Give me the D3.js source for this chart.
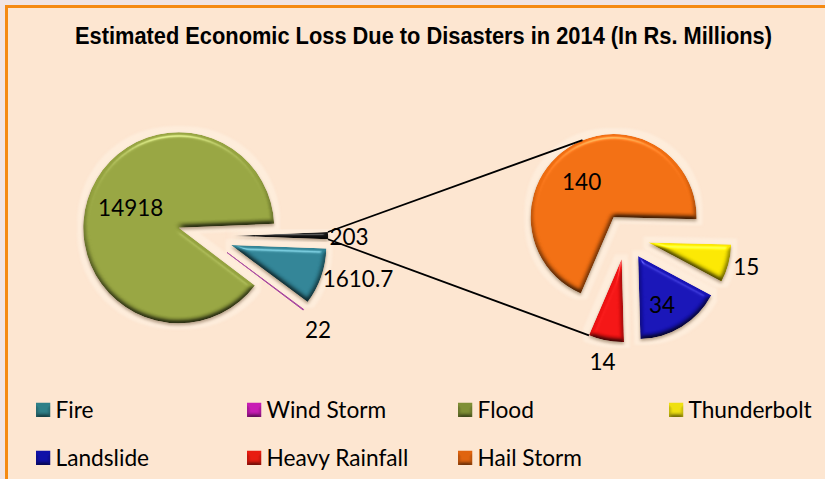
<!DOCTYPE html>
<html><head><meta charset="utf-8">
<script src="https://cdn.jsdelivr.net/npm/d3@7/dist/d3.min.js"></script>
<style>html,body{margin:0;padding:0;background:#f1e4e2;overflow:hidden}svg{display:block}</style>
</head><body><svg id="c" width="825" height="479"></svg>
<script>
const title = "Estimated Economic Loss Due to Disasters in 2014 (In Rs. Millions)";
const leftNames = ["Fire","Wind Storm","Flood","Other"];
const leftValues = [1610.7,22,14918,203];
const leftLabels = ["1610.7","22","14918","203"];
const leftColors = ["#2f8193","#a8469f","#94a23f","#141414"];
const rightNames = ["Thunderbolt","Landslide","Heavy Rainfall","Hail Storm"];
const rightValues = [15,34,14,140];
const rightLabels = ["15","34","14","140"];
const rightColors = ["#f7e400","#1612b4","#f01212","#ee6c10"];
const legendNames = ["Fire","Wind Storm","Flood","Thunderbolt","Landslide","Heavy Rainfall","Hail Storm"];
const legendColors = ["#2f8088","#c81cb4","#7f8f35","#efe010","#1010a8","#e81c10","#e0640f"];

// layout (pixels and degrees) kept apart from the data
const left = {cx:205, cy:236, r:95.5, explode:27.5, start:92,
  labelAngle:[105,130.4,292.6,90.5], labelDist:[131.5,119.5,52,116.5]};
const right = {cx:626, cy:236.5, r:83, explode:23, start:91.5,
  labelAngle:[104,154,190.5,317.6], labelDist:[101,54.6,104.7,47.4]};
const rad = d => d*Math.PI/180;
const polar = (a,r) => [Math.sin(a)*r, -Math.cos(a)*r];

const svg = d3.select("#c");
const defs = svg.append("defs");

function bevel(id){
  const f = defs.append("filter").attr("id",id).attr("x","-30%").attr("y","-30%").attr("width","160%").attr("height","160%")
    .attr("color-interpolation-filters","sRGB");
  f.append("feMorphology").attr("in","SourceAlpha").attr("operator","dilate").attr("radius",6).attr("result","d");
  f.append("feGaussianBlur").attr("in","d").attr("stdDeviation",1).attr("result","db");
  f.append("feFlood").attr("flood-color","#fff3e6").attr("flood-opacity",.5);
  f.append("feComposite").attr("in2","db").attr("operator","in").attr("result","halo");
  f.append("feGaussianBlur").attr("in","SourceAlpha").attr("stdDeviation",1.5).attr("result","sb");
  f.append("feOffset").attr("in","sb").attr("dy",1.5).attr("result","so");
  f.append("feFlood").attr("flood-color","#4a3010").attr("flood-opacity",.4);
  f.append("feComposite").attr("in2","so").attr("operator","in").attr("result","shadow");
  f.append("feGaussianBlur").attr("in","SourceAlpha").attr("stdDeviation",2.6).attr("result","h");
  const dl = f.append("feDiffuseLighting").attr("in","h").attr("surfaceScale",3).attr("diffuseConstant",1.21).attr("lighting-color","#fff").attr("result","dif");
  dl.append("feDistantLight").attr("azimuth",265).attr("elevation",56);
  f.append("feComposite").attr("in","SourceGraphic").attr("in2","dif").attr("operator","arithmetic").attr("k1",1).attr("result","lit");
  const sl = f.append("feSpecularLighting").attr("in","h").attr("surfaceScale",3).attr("specularConstant",.3).attr("specularExponent",45).attr("lighting-color","#fff").attr("result","spec");
  sl.append("feDistantLight").attr("azimuth",265).attr("elevation",50);
  f.append("feComposite").attr("in","spec").attr("in2","SourceAlpha").attr("operator","in").attr("result","specIn");
  f.append("feComposite").attr("in","lit").attr("in2","specIn").attr("operator","arithmetic").attr("k2",1).attr("k3",1).attr("result","top");
  f.append("feComposite").attr("in","top").attr("in2","SourceAlpha").attr("operator","in").attr("result","clip");
  const m = f.append("feMerge");
  ["halo","shadow","clip"].forEach(n=>m.append("feMergeNode").attr("in",n));
}
bevel("bevel");
const sq = defs.append("filter").attr("id","sq").attr("color-interpolation-filters","sRGB");
sq.append("feGaussianBlur").attr("in","SourceAlpha").attr("stdDeviation",2).attr("result","h");
sq.append("feDiffuseLighting").attr("in","h").attr("surfaceScale",2).attr("diffuseConstant",1.16).attr("lighting-color","#fff").attr("result","d")
  .append("feDistantLight").attr("azimuth",270).attr("elevation",60);
sq.append("feComposite").attr("in","SourceGraphic").attr("in2","d").attr("operator","arithmetic").attr("k1",1).attr("result","l");
sq.append("feComposite").attr("in","l").attr("in2","SourceAlpha").attr("operator","in");

// panel
svg.append("rect").attr("width",825).attr("height",479).attr("fill","#f1e4e2");
svg.append("rect").attr("x",6.5).attr("y",6.5).attr("width",825).attr("height",490)
  .attr("fill","#fde6d1").attr("stroke","#f58a12").attr("stroke-width",3);

svg.append("text").attr("x",423.5).attr("y",43.5).attr("text-anchor","middle")
  .attr("font-family","'Liberation Sans',Arial,sans-serif").attr("font-weight",700).attr("font-size",23)
  .attr("textLength",697).attr("lengthAdjust","spacingAndGlyphs").attr("fill","#000").text(title);

function drawPie(cfg, names, values, colors){
  const arcs = d3.pie().sort(null).startAngle(rad(cfg.start)).endAngle(rad(cfg.start+360)).value(d=>d)(values);
  const arc = d3.arc().innerRadius(0).outerRadius(cfg.r);
  const g = svg.append("g");
  const geo = arcs.map((a,i)=>{
    const off = polar((a.startAngle+a.endAngle)/2, cfg.explode);
    return {a, i, x:cfg.cx+off[0], y:cfg.cy+off[1], big:(a.endAngle-a.startAngle)>rad(2)};
  });
  g.selectAll("path").data(geo).join("path")
    .attr("transform",d=>`translate(${d.x},${d.y})`)
    .attr("d",d=>arc(d.a))
    .attr("fill",d=>colors[d.i])
    .attr("data-name",d=>names[d.i])
    .attr("filter",d=>d.big?"url(#bevel)":null)
    .attr("stroke",d=>d.big?"none":colors[d.i])
    .attr("stroke-width",1);
  return {geo, cfg};
}
const L = drawPie(left,leftNames,leftValues,leftColors);
const R = drawPie(right,rightNames,rightValues,rightColors);

// series lines: the "Other" wedge of the first pie opens into the second pie
const other = L.geo[3], hail = R.geo[3], rain = R.geo[2];
const pt = (g,a,r)=>{const p=polar(a,r);return [g.x+p[0],g.y+p[1]];};
const connectors = [
  [pt(other,other.a.startAngle,left.r), pt(hail,rad(338),right.r)],
  [pt(other,other.a.endAngle,left.r), pt(rain,rain.a.endAngle,right.r)]
];
svg.append("g").selectAll("path").data(connectors).join("path")
  .attr("d",d3.line()).attr("stroke","#000").attr("stroke-width",1.8).attr("fill","none");

function drawLabels(P,labels){
  svg.append("g").selectAll("text").data(P.geo).join("text")
    .attr("x",d=>d.x+polar(rad(P.cfg.labelAngle[d.i]),P.cfg.labelDist[d.i])[0])
    .attr("y",d=>d.y+polar(rad(P.cfg.labelAngle[d.i]),P.cfg.labelDist[d.i])[1])
    .attr("dy","0.36em").attr("text-anchor","middle")
    .attr("font-family","Lato,Carlito,sans-serif").attr("font-size",22.5).attr("fill","#000")
    .text(d=>labels[d.i]);
}
drawLabels(L,leftLabels);
drawLabels(R,rightLabels);

// legend
const col = d3.scalePoint().domain([0,1,2,3]).range([36,669]);
const row = d3.scalePoint().domain([0,1]).range([410,458]);
const items = svg.append("g").selectAll("g").data(legendNames).join("g")
  .attr("transform",(d,i)=>`translate(${col(i%4)},${row(Math.floor(i/4))})`);
items.append("rect").attr("y",-7.5).attr("width",14.5).attr("height",14.5).attr("fill",(d,i)=>legendColors[i]).attr("filter","url(#sq)");
items.append("text").attr("x",19.5).attr("dy","0.36em").attr("font-family","Lato,Carlito,sans-serif").attr("font-size",22.7).attr("fill","#000").text(d=>d);
</script></body></html>
